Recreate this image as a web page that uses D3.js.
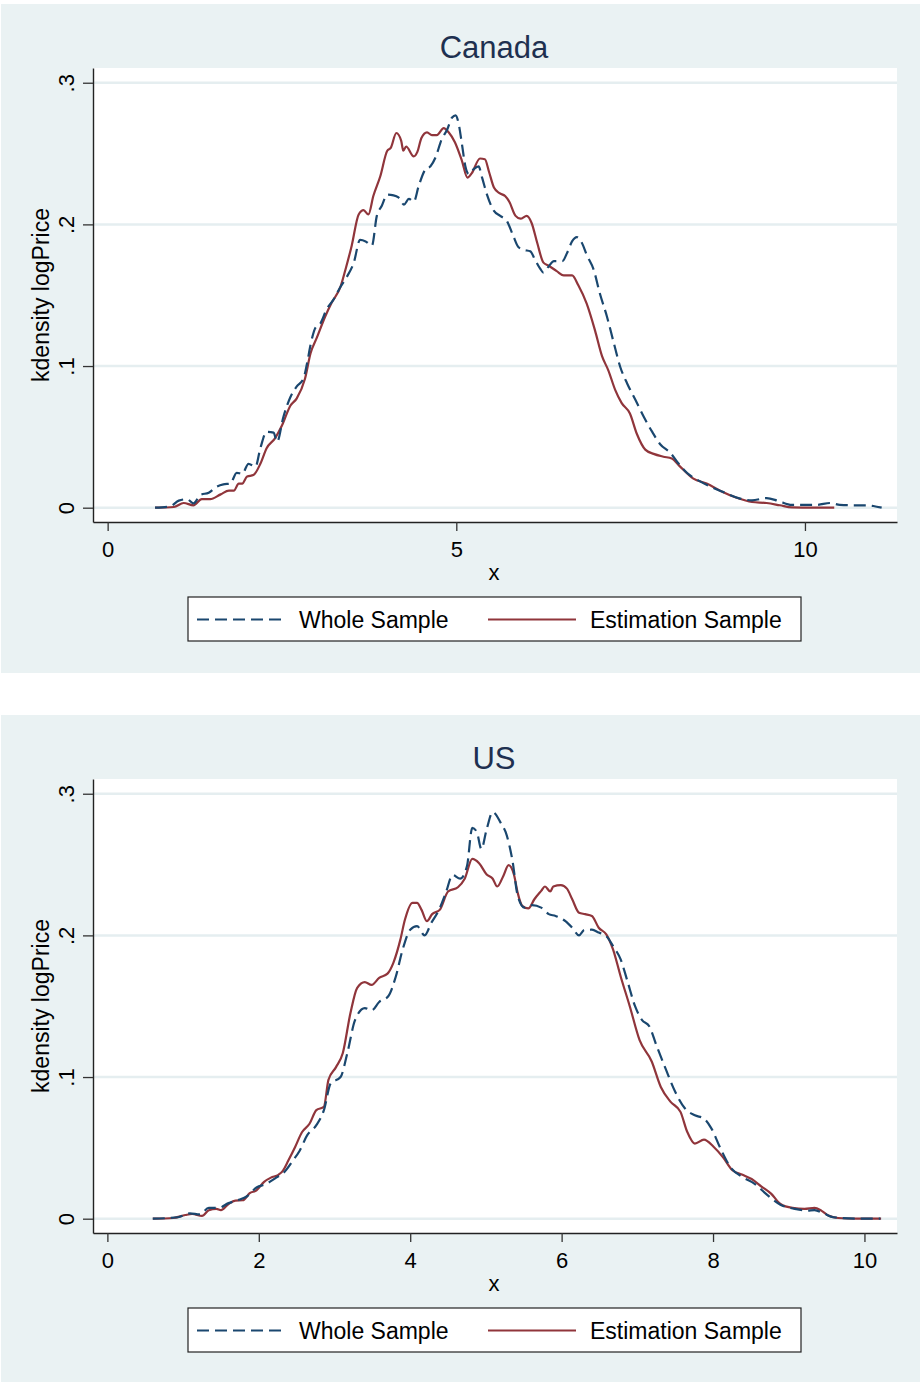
<!DOCTYPE html>
<html>
<head>
<meta charset="utf-8">
<script src="https://cdn.jsdelivr.net/npm/d3@7.9.0/dist/d3.min.js"></script>
<style>
  body { margin: 0; background: #fff; }
  svg { display: block; font-family: "Liberation Sans", Arial, sans-serif; }
</style>
</head>
<body>
<svg id="chart" width="920" height="1382"></svg>
<script>
// kdensity logPrice as [x, density]
const canadaWhole = [
  [0.68, 0], [0.90, 0.001], [1.02, 0.005], [1.14, 0.006], [1.23, 0.003], [1.33, 0.009],
  [1.45, 0.0106], [1.57, 0.015], [1.66, 0.0165], [1.76, 0.017], [1.85, 0.0246], [1.93, 0.024],
  [2.02, 0.031], [2.12, 0.029], [2.19, 0.042], [2.28, 0.0536], [2.38, 0.053], [2.43, 0.0465],
  [2.52, 0.064], [2.62, 0.078], [2.71, 0.0855], [2.81, 0.0914], [2.86, 0.102], [2.91, 0.115],
  [2.98, 0.127], [3.05, 0.130], [3.14, 0.140], [3.24, 0.147], [3.34, 0.156], [3.43, 0.163],
  [3.53, 0.173], [3.62, 0.189], [3.70, 0.188], [3.79, 0.185], [3.86, 0.206], [3.93, 0.213],
  [4.01, 0.221], [4.10, 0.2205], [4.17, 0.219], [4.25, 0.214], [4.32, 0.218], [4.39, 0.216],
  [4.46, 0.227], [4.56, 0.239], [4.63, 0.241], [4.70, 0.247], [4.79, 0.260], [4.87, 0.267],
  [4.94, 0.2755], [4.99, 0.277], [5.03, 0.272], [5.08, 0.257], [5.13, 0.241], [5.18, 0.2355],
  [5.25, 0.239], [5.32, 0.241], [5.37, 0.233], [5.44, 0.221], [5.54, 0.2095], [5.63, 0.206],
  [5.73, 0.202], [5.82, 0.1915], [5.89, 0.184], [5.97, 0.182], [6.06, 0.181], [6.13, 0.175],
  [6.20, 0.169], [6.25, 0.166], [6.32, 0.170], [6.40, 0.174], [6.52, 0.174], [6.59, 0.180],
  [6.66, 0.188], [6.73, 0.191], [6.80, 0.187], [6.87, 0.1785], [6.97, 0.168], [7.06, 0.151],
  [7.16, 0.135], [7.26, 0.116], [7.35, 0.0995], [7.45, 0.0877], [7.57, 0.076], [7.69, 0.064],
  [7.81, 0.0535], [7.92, 0.045], [8.07, 0.0387], [8.19, 0.031], [8.31, 0.0245], [8.45, 0.0198],
  [8.64, 0.015], [8.83, 0.011], [9.07, 0.0064], [9.24, 0.0052], [9.45, 0.0068], [9.62, 0.0047],
  [9.81, 0.002], [10.03, 0.002], [10.17, 0.002], [10.36, 0.0033], [10.50, 0.002], [10.70, 0.0017],
  [10.89, 0.0017], [10.98, 0.0012], [11.10, 0]
];

const canadaEstimation = [
  [0.68, 0], [0.95, 0.0005], [1.09, 0.0033], [1.23, 0.0017], [1.35, 0.006], [1.47, 0.006],
  [1.62, 0.0094], [1.74, 0.012], [1.81, 0.012], [1.88, 0.017], [1.93, 0.017], [2.00, 0.022],
  [2.09, 0.023], [2.19, 0.031], [2.28, 0.042], [2.40, 0.049], [2.50, 0.058], [2.62, 0.072],
  [2.71, 0.077], [2.83, 0.091], [2.91, 0.109], [3.00, 0.120], [3.12, 0.135], [3.21, 0.1445],
  [3.34, 0.156], [3.41, 0.168], [3.50, 0.185], [3.60, 0.207], [3.67, 0.210], [3.74, 0.207],
  [3.81, 0.220], [3.91, 0.234], [4.01, 0.252], [4.06, 0.254], [4.14, 0.2645], [4.21, 0.259],
  [4.24, 0.252], [4.28, 0.255], [4.39, 0.248], [4.44, 0.251], [4.50, 0.261], [4.58, 0.265],
  [4.65, 0.263], [4.72, 0.263], [4.82, 0.268], [4.89, 0.265], [4.98, 0.258], [5.08, 0.245],
  [5.16, 0.233], [5.22, 0.236], [5.34, 0.2465], [5.41, 0.246], [5.47, 0.237], [5.54, 0.226],
  [5.62, 0.222], [5.70, 0.220], [5.76, 0.216], [5.85, 0.206], [5.92, 0.204], [6.01, 0.206],
  [6.08, 0.201], [6.16, 0.187], [6.25, 0.173], [6.32, 0.171], [6.44, 0.167], [6.54, 0.164],
  [6.66, 0.164], [6.75, 0.157], [6.87, 0.144], [6.99, 0.125], [7.09, 0.107], [7.18, 0.097],
  [7.28, 0.083], [7.37, 0.074], [7.49, 0.0665], [7.59, 0.052], [7.71, 0.041], [7.83, 0.038],
  [7.97, 0.036], [8.09, 0.0347], [8.21, 0.029], [8.40, 0.0205], [8.59, 0.017], [8.79, 0.0118],
  [9.02, 0.007], [9.24, 0.004], [9.45, 0.0033], [9.64, 0.0017], [9.81, 0.0002], [10.12, 0],
  [10.42, 0]
];

const usWhole = [
  [0.60, 0], [0.93, 0.001], [1.09, 0.0038], [1.22, 0.003], [1.34, 0.0076], [1.47, 0.0076],
  [1.60, 0.011], [1.72, 0.013], [1.85, 0.016], [1.97, 0.022], [2.10, 0.0246], [2.23, 0.029],
  [2.32, 0.032], [2.45, 0.041], [2.54, 0.048], [2.64, 0.059], [2.76, 0.066], [2.86, 0.0766],
  [2.95, 0.0955], [3.08, 0.100], [3.17, 0.117], [3.27, 0.140], [3.40, 0.1487], [3.49, 0.147],
  [3.59, 0.153], [3.71, 0.157], [3.81, 0.171], [3.90, 0.190], [4.00, 0.204], [4.09, 0.2066],
  [4.19, 0.200], [4.28, 0.209], [4.38, 0.218], [4.47, 0.230], [4.56, 0.2426], [4.66, 0.240],
  [4.75, 0.249], [4.82, 0.276], [4.88, 0.273], [4.94, 0.261], [5.01, 0.275], [5.09, 0.287],
  [5.20, 0.279], [5.26, 0.273], [5.35, 0.253], [5.42, 0.228], [5.51, 0.2196], [5.61, 0.2213],
  [5.73, 0.2196], [5.83, 0.215], [5.92, 0.2137], [6.05, 0.210], [6.14, 0.2054], [6.23, 0.200],
  [6.30, 0.2038], [6.40, 0.204], [6.49, 0.202], [6.59, 0.1995], [6.68, 0.1924], [6.78, 0.183],
  [6.87, 0.1676], [6.97, 0.150], [7.06, 0.1404], [7.16, 0.1357], [7.25, 0.1227], [7.38, 0.105],
  [7.50, 0.0896], [7.63, 0.0778], [7.76, 0.073], [7.88, 0.0707], [7.98, 0.0636], [8.10, 0.0494],
  [8.23, 0.0364], [8.39, 0.0293], [8.55, 0.0246], [8.70, 0.0175], [8.89, 0.0099], [9.08, 0.0069],
  [9.24, 0.0057], [9.34, 0.0061], [9.46, 0.0038], [9.59, 0.001], [9.90, 0], [10.21, 0]
];

const usEstimation = [
  [0.60, 0], [0.87, 0.0005], [1.03, 0.0026], [1.12, 0.0033], [1.25, 0.002], [1.34, 0.006],
  [1.44, 0.007], [1.50, 0.006], [1.60, 0.0104], [1.69, 0.0128], [1.79, 0.013], [1.88, 0.018],
  [1.97, 0.020], [2.07, 0.026], [2.16, 0.029], [2.26, 0.031], [2.32, 0.034], [2.39, 0.041],
  [2.48, 0.0506], [2.57, 0.061], [2.67, 0.067], [2.76, 0.0766], [2.86, 0.079], [2.92, 0.098],
  [3.02, 0.107], [3.11, 0.117], [3.21, 0.145], [3.30, 0.163], [3.40, 0.167], [3.49, 0.165],
  [3.59, 0.170], [3.70, 0.173], [3.78, 0.181], [3.87, 0.197], [3.93, 0.211], [4.03, 0.223],
  [4.09, 0.223], [4.15, 0.218], [4.22, 0.210], [4.29, 0.215], [4.39, 0.218], [4.50, 0.231],
  [4.63, 0.234], [4.72, 0.240], [4.82, 0.254], [4.91, 0.251], [5.01, 0.243], [5.09, 0.240],
  [5.15, 0.2345], [5.23, 0.242], [5.30, 0.2496], [5.37, 0.243], [5.42, 0.230], [5.48, 0.2208],
  [5.56, 0.219], [5.64, 0.2255], [5.73, 0.2314], [5.78, 0.2345], [5.85, 0.231], [5.89, 0.2345],
  [5.99, 0.2355], [6.07, 0.233], [6.14, 0.2255], [6.23, 0.216], [6.31, 0.215], [6.40, 0.2137],
  [6.49, 0.2054], [6.59, 0.2007], [6.68, 0.190], [6.78, 0.171], [6.90, 0.150], [7.03, 0.126],
  [7.19, 0.111], [7.31, 0.093], [7.44, 0.0825], [7.57, 0.0754], [7.66, 0.0612], [7.76, 0.053],
  [7.88, 0.0558], [8.01, 0.0506], [8.13, 0.0435], [8.26, 0.034], [8.39, 0.031], [8.51, 0.028],
  [8.64, 0.0227], [8.77, 0.0175], [8.89, 0.0104], [9.05, 0.0076], [9.21, 0.0069], [9.34, 0.0076],
  [9.43, 0.0057], [9.53, 0.002], [9.65, 0.0005], [9.90, 0], [10.22, 0]
];

const yTicks = [0, 0.1, 0.2, 0.3];
const canadaXTicks = [0, 5, 10];
const usXTicks = [0, 2, 4, 6, 8, 10];
const seriesNames = ['Whole Sample', 'Estimation Sample'];

const navy = '#1a476f';
const maroon = '#90353b';
const panelBg = '#eaf2f3';
const gridColor = '#e5eef0';

const svg = d3.select('#chart');

function formatDensity(d) {
  // Stata style: .3 .2 .1 0
  return d === 0 ? '0' : d3.format('.1f')(d).replace(/^0/, '');
}

function drawPanel(offset, title, whole, estimation, xDomain, xTicks) {
  const g = svg.append('g').attr('transform', `translate(0,${offset})`);

  g.append('rect')
    .attr('x', 1).attr('y', 4)
    .attr('width', 919).attr('height', 669)
    .attr('fill', panelBg);

  const x = d3.scaleLinear().domain(xDomain).range([93, 897]);
  const y = d3.scaleLinear().domain([-0.0101, 0.3104]).range([522, 68]);

  g.append('rect')
    .attr('x', 93).attr('y', 68)
    .attr('width', 804).attr('height', 454)
    .attr('fill', '#fff');

  g.append('g')
    .selectAll('line')
    .data(yTicks)
    .join('line')
    .attr('x1', 93).attr('x2', 897)
    .attr('y1', (d) => y(d)).attr('y2', (d) => y(d))
    .attr('stroke', gridColor)
    .attr('stroke-width', 2.5);

  const line = d3.line()
    .x((d) => x(d[0]))
    .y((d) => y(d[1]))
    .curve(d3.curveMonotoneX);

  g.append('path')
    .datum(estimation)
    .attr('d', line)
    .attr('fill', 'none')
    .attr('stroke', maroon)
    .attr('stroke-width', 2.2);

  g.append('path')
    .datum(whole)
    .attr('d', line)
    .attr('fill', 'none')
    .attr('stroke', navy)
    .attr('stroke-width', 2.2)
    .attr('stroke-dasharray', '12,6');

  const yAxis = g.append('g')
    .attr('transform', 'translate(93,0)')
    .call(d3.axisLeft(y).tickValues(yTicks).tickSize(10).tickSizeOuter(0).tickFormat(formatDensity));

  yAxis.selectAll('text')
    .attr('x', 0).attr('dy', 0)
    .attr('transform', 'translate(-19,0) rotate(-90)')
    .attr('text-anchor', 'middle');

  const xAxis = g.append('g')
    .attr('transform', 'translate(0,522)')
    .call(d3.axisBottom(x).tickValues(xTicks).tickSize(9).tickSizeOuter(0).tickFormat(d3.format('d')));

  xAxis.selectAll('text').attr('y', 35).attr('dy', 0);

  [yAxis, xAxis].forEach((axis) => {
    axis.selectAll('text')
      .attr('font-family', '"Liberation Sans", Arial, sans-serif')
      .attr('font-size', 22)
      .attr('fill', '#000');
    axis.selectAll('line').attr('stroke', '#333').attr('stroke-width', 1.3);
    axis.select('.domain').attr('stroke', '#222').attr('stroke-width', 1.4);
  });

  g.append('text')
    .attr('x', 494).attr('y', 58)
    .attr('text-anchor', 'middle')
    .attr('font-size', 31)
    .attr('fill', '#1e3050')
    .text(title);

  g.append('text')
    .attr('transform', 'translate(49,295) rotate(-90)')
    .attr('text-anchor', 'middle')
    .attr('font-size', 23)
    .attr('fill', '#000')
    .text('kdensity logPrice');

  g.append('text')
    .attr('x', 494).attr('y', 580)
    .attr('text-anchor', 'middle')
    .attr('font-size', 22)
    .attr('fill', '#000')
    .text('x');

  // legend
  const legend = g.append('g');
  legend.append('rect')
    .attr('x', 188).attr('y', 597)
    .attr('width', 613).attr('height', 44)
    .attr('fill', '#fff')
    .attr('stroke', '#222')
    .attr('stroke-width', 1.2);

  const items = [
    { name: seriesNames[0], color: navy, dash: '12,6', x0: 197, x1: 286, tx: 299 },
    { name: seriesNames[1], color: maroon, dash: null, x0: 488, x1: 576, tx: 590 },
  ];

  items.forEach((item) => {
    legend.append('line')
      .attr('x1', item.x0).attr('x2', item.x1)
      .attr('y1', 619.5).attr('y2', 619.5)
      .attr('stroke', item.color)
      .attr('stroke-width', 2.2)
      .attr('stroke-dasharray', item.dash);
    legend.append('text')
      .attr('x', item.tx).attr('y', 628)
      .attr('font-size', 23)
      .attr('fill', '#000')
      .text(item.name);
  });
}

drawPanel(0, 'Canada', canadaWhole, canadaEstimation, [-0.21, 11.32], canadaXTicks);
drawPanel(711, 'US', usWhole, usEstimation, [-0.19, 10.43], usXTicks);
</script>
</body>
</html>
